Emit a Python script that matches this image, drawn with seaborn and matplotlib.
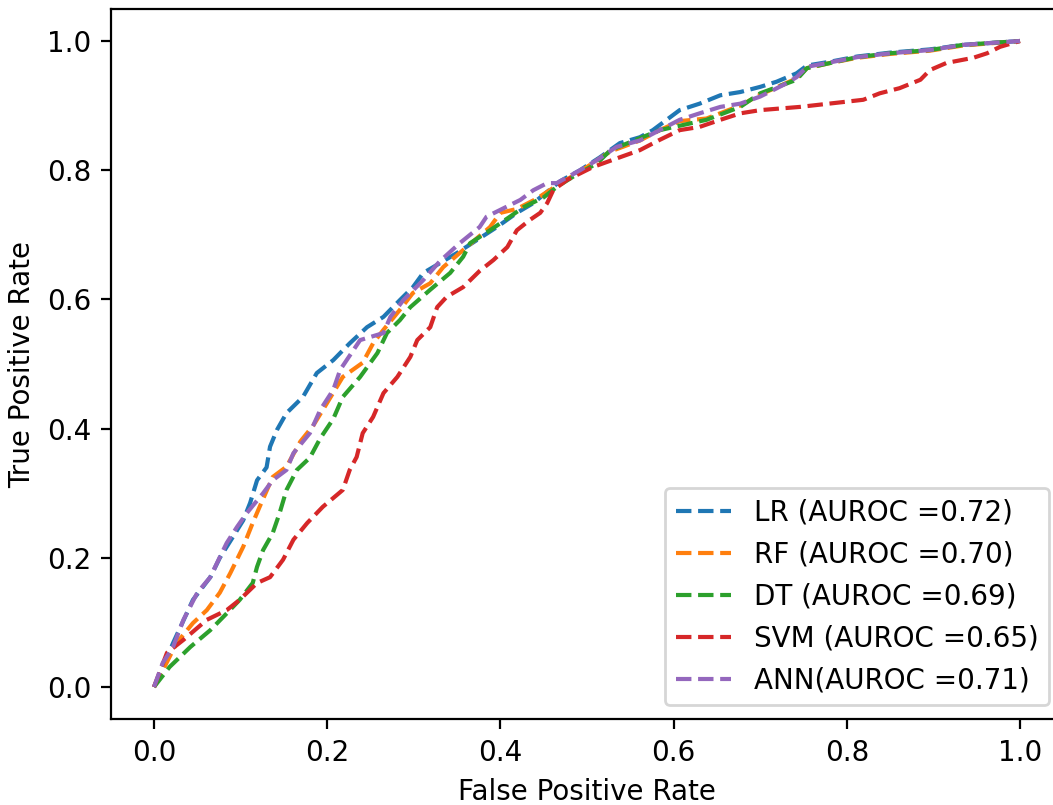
import matplotlib
matplotlib.use("Agg")
import matplotlib.pyplot as plt
import seaborn as sns

# ROC 곡선 값
lr_fpr = [0, 0.022, 0.045, 0.065, 0.076, 0.091, 0.103, 0.111, 0.119, 0.130, 0.134, 0.142,
          0.153, 0.172, 0.188, 0.207, 0.226, 0.246, 0.265, 0.284, 0.299, 0.311, 0.330, 0.350,
          0.373, 0.396, 0.419, 0.438, 0.469, 0.492, 0.515, 0.538, 0.561, 0.576, 0.592, 0.607,
          0.630, 0.654, 0.677, 0.700, 0.719, 0.742, 0.754, 0.781, 0.812, 0.850, 0.896, 0.934, 1.0]
lr_tpr = [0, 0.068, 0.135, 0.170, 0.200, 0.232, 0.258, 0.285, 0.320, 0.340, 0.372, 0.398,
          0.424, 0.449, 0.486, 0.506, 0.532, 0.557, 0.573, 0.599, 0.619, 0.641, 0.656, 0.672,
          0.692, 0.712, 0.734, 0.749, 0.783, 0.800, 0.820, 0.842, 0.851, 0.862, 0.878, 0.893,
          0.903, 0.916, 0.921, 0.929, 0.937, 0.950, 0.962, 0.968, 0.976, 0.982, 0.987, 0.994, 1.0]

rf_fpr = [0, 0.008, 0.026, 0.045, 0.061, 0.076, 0.088, 0.103, 0.114, 0.122, 0.137, 0.153,
          0.169, 0.184, 0.200, 0.218, 0.241, 0.253, 0.265, 0.284, 0.299, 0.319, 0.334, 0.361,
          0.388, 0.400, 0.419, 0.442, 0.465, 0.492, 0.527, 0.561, 0.584, 0.607, 0.638, 0.677,
          0.700, 0.742, 0.754, 0.781, 0.812, 0.850, 0.896, 0.934, 1.0]
rf_tpr = [0, 0.020, 0.068, 0.099, 0.119, 0.146, 0.176, 0.217, 0.254, 0.279, 0.325, 0.341,
          0.380, 0.405, 0.440, 0.480, 0.502, 0.532, 0.553, 0.584, 0.610, 0.625, 0.650, 0.681,
          0.712, 0.734, 0.740, 0.756, 0.776, 0.798, 0.829, 0.846, 0.862, 0.876, 0.880, 0.900,
          0.917, 0.942, 0.958, 0.966, 0.974, 0.980, 0.985, 0.993, 1.0]

dt_fpr = [0, 0.018, 0.042, 0.065, 0.084, 0.099, 0.114, 0.119, 0.126, 0.137, 0.145, 0.153,
          0.165, 0.180, 0.192, 0.207, 0.218, 0.238, 0.258, 0.269, 0.284, 0.296, 0.319, 0.342,
          0.357, 0.365, 0.388, 0.411, 0.427, 0.450, 0.465, 0.484, 0.512, 0.527, 0.584, 0.638,
          0.677, 0.700, 0.742, 0.754, 0.781, 0.812, 0.850, 0.896, 0.934, 1.0]
dt_tpr = [0, 0.031, 0.062, 0.088, 0.114, 0.135, 0.161, 0.186, 0.212, 0.238, 0.269, 0.305,
          0.336, 0.355, 0.385, 0.415, 0.449, 0.480, 0.517, 0.548, 0.568, 0.588, 0.615, 0.641,
          0.666, 0.687, 0.707, 0.728, 0.743, 0.758, 0.774, 0.790, 0.811, 0.831, 0.862, 0.878,
          0.898, 0.919, 0.940, 0.958, 0.966, 0.975, 0.981, 0.986, 0.994, 1.0]

svm_fpr = [0, 0.015, 0.034, 0.061, 0.084, 0.099, 0.119, 0.134, 0.149, 0.161, 0.177, 0.195,
           0.218, 0.226, 0.234, 0.241, 0.253, 0.265, 0.281, 0.296, 0.304, 0.319, 0.327, 0.338,
           0.357, 0.376, 0.392, 0.408, 0.419, 0.434, 0.446, 0.454, 0.461, 0.477, 0.507, 0.538,
           0.561, 0.584, 0.607, 0.630, 0.654, 0.677, 0.700, 0.746, 0.819, 0.838, 0.861, 0.885,
           0.896, 0.915, 0.946, 0.962, 0.977, 1.0]
svm_tpr = [0, 0.053, 0.073, 0.104, 0.119, 0.135, 0.161, 0.170, 0.197, 0.228, 0.254, 0.279,
           0.305, 0.336, 0.356, 0.393, 0.418, 0.455, 0.480, 0.511, 0.537, 0.557, 0.588, 0.604,
           0.619, 0.644, 0.661, 0.681, 0.707, 0.723, 0.734, 0.749, 0.769, 0.785, 0.805, 0.820,
           0.831, 0.847, 0.862, 0.867, 0.878, 0.888, 0.893, 0.898, 0.909, 0.919, 0.927, 0.940,
           0.955, 0.966, 0.974, 0.981, 0.991, 1.0]

ann_fpr = [0, 0.010, 0.022, 0.034, 0.050, 0.065, 0.076, 0.084, 0.096, 0.107, 0.126, 0.137,
           0.153, 0.161, 0.180, 0.192, 0.207, 0.215, 0.238, 0.265, 0.273, 0.288, 0.311, 0.330,
           0.353, 0.376, 0.384, 0.408, 0.423, 0.438, 0.454, 0.465, 0.492, 0.512, 0.534, 0.561,
           0.584, 0.607, 0.630, 0.654, 0.677, 0.700, 0.715, 0.731, 0.742, 0.754, 0.781, 0.812,
           0.850, 0.896, 0.934, 1.0]
ann_tpr = [0, 0.037, 0.062, 0.104, 0.146, 0.170, 0.201, 0.223, 0.248, 0.269, 0.300, 0.320,
           0.336, 0.362, 0.393, 0.429, 0.460, 0.491, 0.537, 0.548, 0.573, 0.599, 0.630, 0.659,
           0.687, 0.712, 0.728, 0.744, 0.754, 0.769, 0.780, 0.780, 0.800, 0.816, 0.836, 0.846,
           0.862, 0.878, 0.888, 0.898, 0.903, 0.914, 0.924, 0.935, 0.944, 0.960, 0.967, 0.975,
           0.981, 0.986, 0.994, 1.0]

labels = ["LR (AUROC =0.72)", "RF (AUROC =0.70)", "DT (AUROC =0.69)",
          "SVM (AUROC =0.65)", "ANN(AUROC =0.71)"]


def main():
    fig = plt.figure(figsize=(5.265, 4.025), dpi=200)
    # 오른쪽 축선은 원본처럼 그림 밖으로 잘림
    ax = fig.add_axes([110.7 / 1053, 1 - 719.3 / 805, 952.6 / 1053, 710.6 / 805])

    curves = [(lr_fpr, lr_tpr), (rf_fpr, rf_tpr), (dt_fpr, dt_tpr),
              (svm_fpr, svm_tpr), (ann_fpr, ann_tpr)]
    colors = sns.color_palette("tab10")
    for (fpr, tpr), label, color in zip(curves, labels, colors):
        sns.lineplot(x=fpr, y=tpr, ax=ax, label=label, color=color,
                     linestyle="--", sort=False, estimator=None)

    ax.set_xlim(-0.05, 1.05)
    ax.set_ylim(-0.05, 1.05)
    ax.set_xlabel("False Positive Rate")
    ax.set_ylabel("True Positive Rate")
    ax.legend(loc="lower right")
    fig.savefig("out.png", dpi=200)


if __name__ == "__main__":
    main()
